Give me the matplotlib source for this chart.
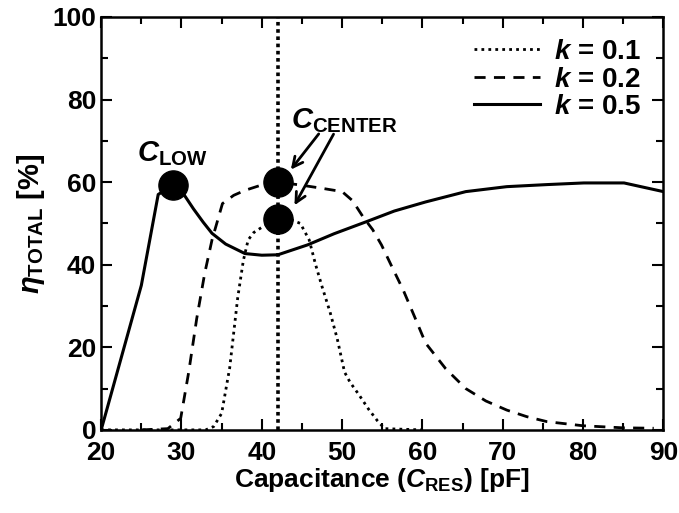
import numpy as np
import matplotlib.pyplot as plt
from matplotlib.ticker import MultipleLocator

plt.rcParams["font.family"] = "Liberation Sans"
plt.rcParams["font.weight"] = "bold"
plt.rcParams["mathtext.fontset"] = "custom"
plt.rcParams["mathtext.rm"] = "Liberation Sans:bold"
plt.rcParams["mathtext.it"] = "Liberation Sans:bold:italic"
plt.rcParams["mathtext.bf"] = "Liberation Sans:bold"

# k = 0.1 (dotted)
c_01 = [20, 30, 33, 34, 35, 36, 37, 37.7, 38.3, 39, 40.2, 42, 43.5, 44.8, 45.9, 46.7, 47.5, 48.5, 49.4, 50.3, 51, 52.1, 53.3, 54.4, 55.3, 60]
e_01 = [0, 0, 0, 0.8, 4, 15, 32, 41, 46, 47.8, 49.3, 51, 51, 50, 46, 40, 34.7, 28.5, 22, 14, 11.5, 8.5, 5, 2.2, 0.3, 0]

# k = 0.2 (dashed)
c_02 = [25, 28.3, 29.9, 30.9, 31.9, 32.9, 33.8, 35.1, 36.5, 37.9, 40.6, 42, 44.8, 47.5, 50, 51.3, 52.6, 53.8, 54.9, 56.2, 57.6, 59, 60.4, 62.9, 65.4, 67.9, 70.5, 73, 75.5, 80, 85, 88.8]
e_02 = [0, 0.3, 2.8, 14, 27, 38, 46, 54.8, 56.8, 58, 59.7, 60, 59.3, 58.5, 57.7, 55.5, 51.6, 48.5, 44.8, 39.5, 33.9, 27.5, 21, 14.8, 10, 7, 4.8, 3.2, 2, 1, 0.5, 0.4]

# k = 0.5 (solid)
c_05 = [20, 25, 27.1, 28.9, 30.3, 31.5, 32.7, 33.8, 35.5, 37.9, 40, 42, 45.7, 49, 53, 56.5, 60.4, 65.4, 70.5, 75.5, 80.1, 85.1, 90]
e_05 = [0, 35, 57, 59.3, 57, 53.5, 50.3, 47.6, 45, 42.7, 42.3, 42.4, 44.8, 47.5, 50.4, 53, 55.2, 57.7, 58.9, 59.4, 59.8, 59.8, 57.7]

# highlighted points
pt_c = [28.9, 42, 42]
pt_e = [59.3, 60, 51]
c_center = 42

fig = plt.figure(figsize=(6.79, 5.13), dpi=100)
ax = fig.add_axes([0.149, 0.162, 0.828, 0.805])

ax.axvline(c_center, color="black", linestyle=(0, (1, 1)), linewidth=2.6)
ax.plot(c_01, e_01, color="black", linestyle=(0, (1, 1.5)), linewidth=2.0, label=r"$k$ = 0.1")
ax.plot(c_02, e_02, color="black", linestyle=(0, (4, 3)), linewidth=2.0, label=r"$k$ = 0.2")
ax.plot(c_05, e_05, color="black", linestyle="-", linewidth=2.2, label=r"$k$ = 0.5")
ax.plot(pt_c, pt_e, "o", color="black", markersize=21, zorder=5)

ax.text(28.9, 63.5, r"$C_{\mathrm{LOW}}$", fontsize=21, ha="center", va="bottom")
ax.text(50.3, 71.5, r"$C_{\mathrm{CENTER}}$", fontsize=21, ha="center", va="bottom")
ax.annotate("", xy=(43.4, 62.5), xytext=(47.3, 72.2),
            arrowprops=dict(arrowstyle="->", color="black", lw=2, mutation_scale=18))
ax.annotate("", xy=(43.9, 53.8), xytext=(49.1, 72.2),
            arrowprops=dict(arrowstyle="->", color="black", lw=2, mutation_scale=18))

ax.set_xlim(20, 90)
ax.set_ylim(0, 100)
ax.xaxis.set_major_locator(MultipleLocator(10))
ax.xaxis.set_minor_locator(MultipleLocator(5))
ax.yaxis.set_major_locator(MultipleLocator(20))
ax.yaxis.set_minor_locator(MultipleLocator(10))
ax.tick_params(which="both", direction="in", top=True, right=True, width=1.5, labelsize=19)
ax.tick_params(axis="x", pad=8)
ax.tick_params(which="major", length=8)
ax.tick_params(which="minor", length=5)
for lab in ax.get_xticklabels() + ax.get_yticklabels():
    lab.set_fontweight("bold")
for s in ax.spines.values():
    s.set_linewidth(1.8)

ax.set_xlabel(r"Capacitance ($C_{\mathrm{RES}}$) [pF]", fontsize=19, fontweight="bold", labelpad=1)
ax.set_ylabel(r"$\eta_{\mathrm{TOTAL}}$ [%]", fontsize=21, fontweight="bold", labelpad=4)

ax.legend(loc="upper right", fontsize=20, frameon=False, handlelength=2.4,
          handletextpad=0.5, labelspacing=0.05, borderaxespad=0.4)

fig.savefig("out.png", dpi=100)
